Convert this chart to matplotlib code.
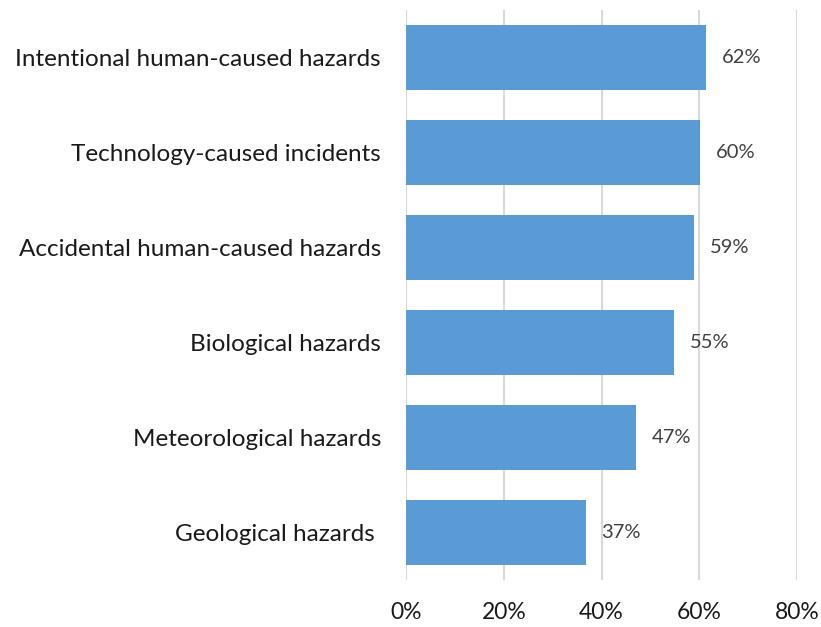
import matplotlib
matplotlib.use("Agg")
import matplotlib.pyplot as plt

categories = ["Intentional human-caused hazards", "Technology-caused incidents",
              "Accidental human-caused hazards", "Biological hazards",
              "Meteorological hazards", "Geological hazards "]
values = [61.4, 60.1, 58.9, 54.8, 47.0, 36.8]
labels = ["62%", "60%", "59%", "55%", "47%", "37%"]
xticks = [0, 20, 40, 60, 80]
xticklabels = ["0%", "20%", "40%", "60%", "80%"]

plt.rcParams['font.family'] = ['Lato', 'DejaVu Sans']

fig = plt.figure(figsize=(8.21, 6.27), dpi=100)
ax = fig.add_axes([406/821, 1-580/627, (797-406)/821, 570/627])

y = list(range(len(categories)))[::-1]
ax.barh(y, values, height=0.69, color="#5B9BD5", zorder=2)
for yi, v, lab in zip(y, values, labels):
    ax.text(v + 3.2, yi, lab, va="center", ha="left", fontsize=14.5, color="#404040")

ax.set_xlim(0, 80)
ax.set_ylim(-0.5, 5.5)
ax.set_yticks(y)
ax.set_yticklabels(categories, fontsize=17.5, color="#1a1a1a")
ax.set_xticks(xticks)
ax.set_xticklabels(xticklabels, fontsize=16.5, color="#1a1a1a")
ax.tick_params(axis="y", length=0, pad=18)
ax.tick_params(axis="x", length=0, pad=16)
ax.grid(axis="x", color="#D9D9D9", linewidth=1.5, zorder=0)
for s in ax.spines.values():
    s.set_visible(False)

fig.savefig("out.png", dpi=100)
